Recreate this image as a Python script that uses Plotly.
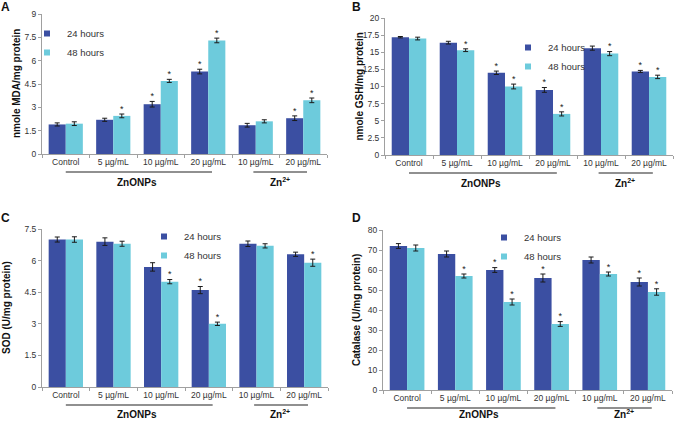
import plotly.graph_objects as go

W, H = 675, 421

categories = ["Control", "5 µg/mL", "10 µg/mL", "20 µg/mL", "10 µg/mL", "20 µg/mL"]
series_names = ["24 hours", "48 hours"]

# Panel A: MDA
mda_24 = [1.9, 2.2, 3.2, 5.3, 1.85, 2.3]
mda_24_err = [0.1, 0.1, 0.18, 0.15, 0.12, 0.15]
mda_48 = [1.95, 2.45, 4.7, 7.3, 2.1, 3.45]
mda_48_err = [0.12, 0.12, 0.1, 0.15, 0.1, 0.15]
mda_24_sig = [0, 0, 1, 1, 0, 1]
mda_48_sig = [0, 1, 1, 1, 0, 1]

# Panel B: GSH
gsh_24 = [17.2, 16.4, 12.0, 9.5, 15.6, 12.2]
gsh_24_err = [0.1, 0.2, 0.25, 0.35, 0.3, 0.15]
gsh_48 = [17.0, 15.3, 10.0, 6.0, 14.8, 11.4]
gsh_48_err = [0.2, 0.2, 0.35, 0.3, 0.3, 0.25]
gsh_24_sig = [0, 0, 1, 1, 0, 1]
gsh_48_sig = [0, 1, 1, 1, 1, 1]

# Panel C: SOD
sod_24 = [7.0, 6.9, 5.7, 4.6, 6.8, 6.3]
sod_24_err = [0.12, 0.18, 0.2, 0.17, 0.13, 0.1]
sod_48 = [7.0, 6.8, 5.0, 3.0, 6.7, 5.9]
sod_48_err = [0.13, 0.12, 0.1, 0.08, 0.1, 0.17]
sod_24_sig = [0, 0, 0, 1, 0, 0]
sod_48_sig = [0, 0, 1, 1, 0, 1]

# Panel D: Catalase
cat_24 = [72, 68, 60, 56, 65, 54]
cat_24_err = [1.2, 1.5, 1.2, 2.0, 1.5, 2.0]
cat_48 = [71, 57, 44, 33, 58, 49]
cat_48_err = [1.5, 1.0, 1.5, 1.2, 1.0, 1.6]
cat_24_sig = [0, 0, 1, 1, 0, 1]
cat_48_sig = [0, 1, 1, 1, 1, 1]

C24 = "#3B4FA2"
C48 = "#6DCBDC"
FONT = "Arial, Liberation Sans, sans-serif"
TXT = "#333333"

# panel geometry in pixels: plot box (x0, x1, ytop, ybottom)
panels = [
    dict(letter="A", title="nmole MDA/mg protein", box=(42, 327, 14, 154), rng=9, dtick=1.5,
         d24=mda_24, e24=mda_24_err, d48=mda_48, e48=mda_48_err, s24=mda_24_sig, s48=mda_48_sig,
         letter_xy=(5, 7), title_x=16, legend_xy=(27, 19)),
    dict(letter="B", title="nmole GSH/mg protein", box=(385, 673, 18, 155), rng=20, dtick=2.5,
         d24=gsh_24, e24=gsh_24_err, d48=gsh_48, e48=gsh_48_err, s24=gsh_24_sig, s48=gsh_48_sig,
         letter_xy=(356, 7), title_x=359, legend_xy=(508, 33)),
    dict(letter="C", title="SOD (U/mg protein)", box=(42, 328, 229, 387), rng=7.5, dtick=1.5,
         d24=sod_24, e24=sod_24_err, d48=sod_48, e48=sod_48_err, s24=sod_24_sig, s48=sod_48_sig,
         letter_xy=(5, 218), title_x=6, legend_xy=(144, 222)),
    dict(letter="D", title="Catalase (U/mg protein)", box=(383, 672, 230, 390), rng=80, dtick=10,
         d24=cat_24, e24=cat_24_err, d48=cat_48, e48=cat_48_err, s24=cat_24_sig, s48=cat_48_sig,
         letter_xy=(356, 218), title_x=356, legend_xy=(484, 223)),
]

fig = go.Figure()
annotations = []
shapes = []
layout_axes = {}
idx = list(range(len(categories)))
HALF = 0.18
BW = 0.36

for p_i, p in enumerate(panels):
    n = "" if p_i == 0 else str(p_i + 1)
    xa, ya = "x" + n, "y" + n
    leg = "legend" + n
    x0, x1, yt, yb = p["box"]
    xdom = [x0 / W, x1 / W]
    ydom = [1 - yb / H, 1 - yt / H]
    x24 = [i - HALF for i in idx]
    x48 = [i + HALF for i in idx]
    for xs, vals, errs, color, name in [(x24, p["d24"], p["e24"], C24, series_names[0]),
                                        (x48, p["d48"], p["e48"], C48, series_names[1])]:
        fig.add_trace(go.Bar(
            x=xs, y=vals, width=BW, name=name, marker=dict(color=color, line=dict(width=0)),
            error_y=dict(type="data", array=errs, color="#1a1a1a", thickness=1, width=2.5),
            xaxis=xa, yaxis=ya, legendgroup=name + n, showlegend=False,
        ))
        # legend entry (small square swatch like the original)
        fig.add_trace(go.Scatter(
            x=[None], y=[None], mode="markers", name=name, legendgroup=name + n,
            marker=dict(symbol="square", size=6, color=color), xaxis=xa, yaxis=ya,
            legend=leg, showlegend=True, hoverinfo="skip",
        ))
    # significance stars
    for xs, vals, errs, sig in [(x24, p["d24"], p["e24"], p["s24"]), (x48, p["d48"], p["e48"], p["s48"])]:
        sx = [x for x, s in zip(xs, sig) if s]
        sy = [v + e for v, e, s in zip(vals, errs, sig) if s]
        fig.add_trace(go.Scatter(
            x=sx, y=sy, mode="text", text=["*"] * len(sx), textposition="top center",
            textfont=dict(family=FONT, size=9, color="#222"), xaxis=xa, yaxis=ya,
            showlegend=False, hoverinfo="skip", cliponaxis=False,
        ))
    layout_axes["xaxis" + n] = dict(
        domain=xdom, anchor=ya, range=[-0.5, 5.5], tickmode="array", tickvals=idx,
        ticktext=categories, ticks="", showline=True, linecolor="#a0a0a0", linewidth=1,
        showgrid=False, zeroline=False, tickfont=dict(family=FONT, size=8.5, color=TXT),
        minor=dict(tickmode="linear", tick0=-0.5, dtick=1, ticks="outside", ticklen=3,
                   tickcolor="#a0a0a0", showgrid=False),
        fixedrange=True, automargin=False,
    )
    layout_axes["yaxis" + n] = dict(
        domain=ydom, anchor=xa, range=[0, p["rng"]], dtick=p["dtick"], tick0=0,
        showline=True, linecolor="#a0a0a0", linewidth=1, ticks="outside", ticklen=3,
        tickcolor="#a0a0a0", showgrid=False, zeroline=False,
        tickfont=dict(family=FONT, size=8.5, color=TXT), fixedrange=True, automargin=False,
    )
    lx, ly = p["legend_xy"]
    layout_axes[leg] = dict(
        x=lx / W, y=1 - ly / H, xanchor="left", yanchor="top", bgcolor="rgba(0,0,0,0)",
        font=dict(family=FONT, size=9.5, color=TXT), itemwidth=30, tracegroupgap=0,
        itemsizing="trace",
    )
    # panel letter
    annotations.append(dict(text="<b>%s</b>" % p["letter"], x=p["letter_xy"][0] / W,
                            y=1 - p["letter_xy"][1] / H, xref="paper", yref="paper",
                            xanchor="center", yanchor="middle",
                            showarrow=False, font=dict(family=FONT, size=12, color="#111")))
    # y title
    annotations.append(dict(text="<b>%s</b>" % p["title"], x=p["title_x"] / W,
                            y=(ydom[0] + ydom[1]) / 2, xref="paper", yref="paper",
                            xanchor="center", yanchor="middle",
                            textangle=-90, showarrow=False,
                            font=dict(family=FONT, size=10, color="#111")))
    # group underline + labels
    ypx_line = yb + 18
    ypx_lab = min(yb + 28, 414)
    for gx0, gx1, gmid, glab in [(0.0, 3.08, 1.5, "<b>ZnONPs</b>"), (3.95, 5.08, 4.5, "<b>Zn<sup>2+</sup></b>")]:
        shapes.append(dict(type="line", xref=xa, yref="paper", x0=gx0, x1=gx1,
                           y0=1 - ypx_line / H, y1=1 - ypx_line / H,
                           line=dict(color="#222", width=1.2)))
        annotations.append(dict(text=glab, x=gmid, y=1 - ypx_lab / H, xref=xa, yref="paper",
                                xanchor="center", yanchor="middle",
                                showarrow=False, font=dict(family=FONT, size=10, color="#111")))

fig.update_layout(
    width=W, height=H, margin=dict(l=0, r=0, t=0, b=0),
    paper_bgcolor="white", plot_bgcolor="white", barmode="overlay",
    annotations=annotations, shapes=shapes, **layout_axes,
)

fig.write_html(
    "out.html",
    config={"displayModeBar": False},
    post_script="document.body.style.margin='0';document.body.style.padding='0';"
                "document.body.style.overflow='hidden';",
)
